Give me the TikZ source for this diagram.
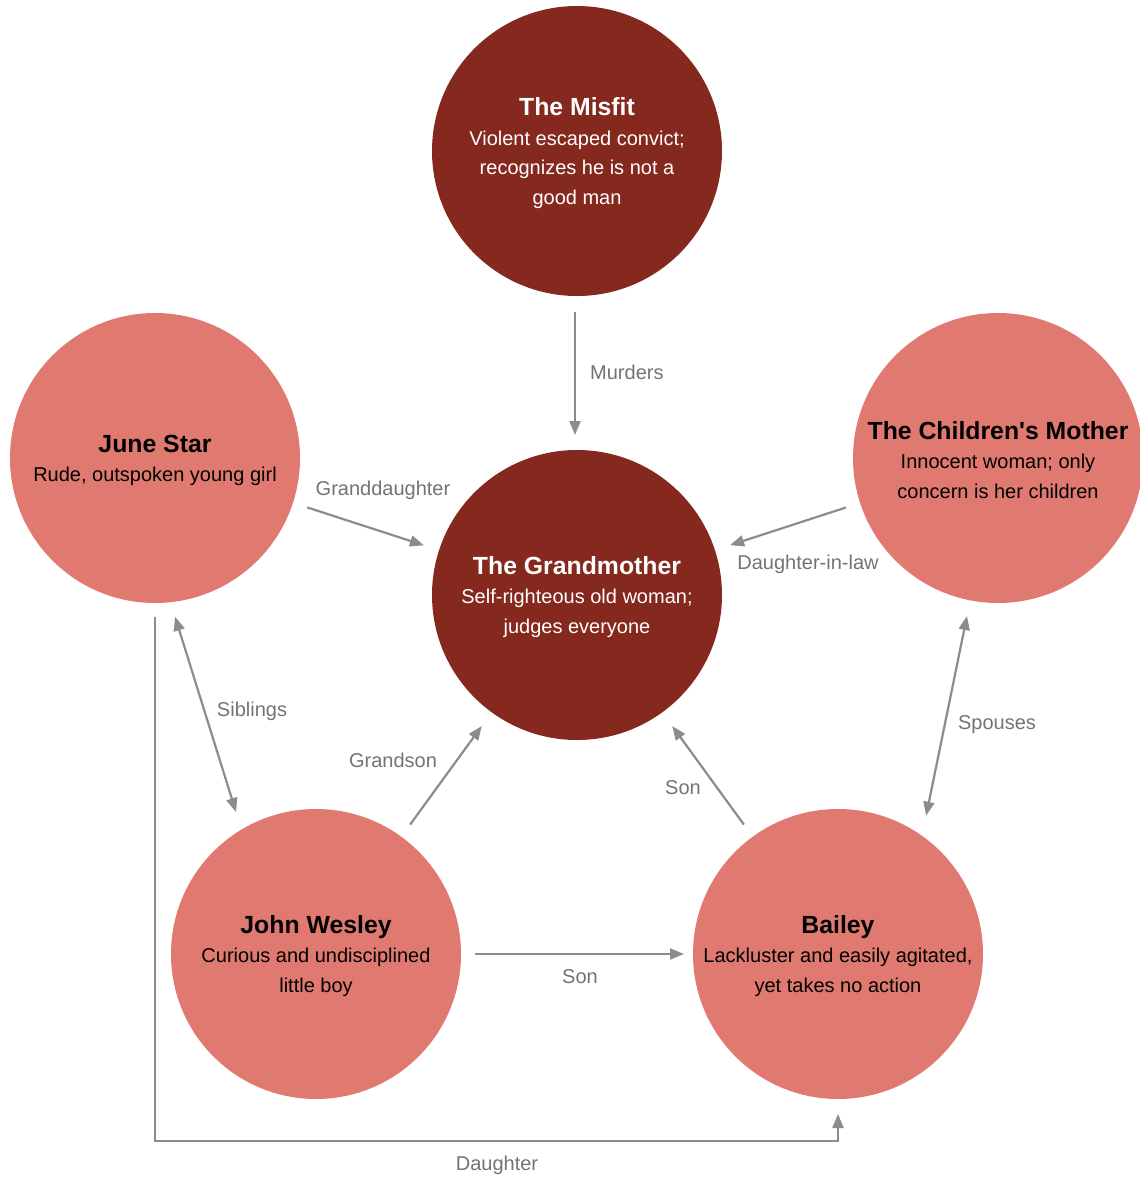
\documentclass[tikz,border=0pt]{standalone}
\usepackage{fontspec}
\setmainfont{Liberation Sans}
\usetikzlibrary{arrows.meta,calc}
\definecolor{darkc}{HTML}{85281E}
\definecolor{lightc}{HTML}{E07A70}
\definecolor{arrc}{HTML}{8C8C8C}
\definecolor{labc}{HTML}{737373}
\newcommand\chartitle[1]{{\fontsize{24.8}{29.5}\selectfont\bfseries\rule{0pt}{22pt}#1}}
\begin{document}
\begin{tikzpicture}[x=1pt,y=1pt,
 person/.style={circle, minimum size=290pt, inner sep=0pt, outer sep=0pt, align=center, font=\fontsize{20}{29.5}\selectfont},
 darkp/.style={person, fill=darkc, text=white},
 lightp/.style={person, fill=lightc, text=black},
 conn/.style={draw=arrc, line width=2.2pt, -{Triangle[length=14pt,width=11pt]}},
 both/.style={conn, {Triangle[length=14pt,width=11pt]}-{Triangle[length=14pt,width=11pt]}},
 lab/.style={text=labc, font=\fontsize{20}{23}\selectfont, inner sep=0pt}]
\useasboundingbox (0,0) rectangle (1140,-1179);

\node[darkp] (misfit) at (577,-151) {\chartitle{The Misfit}\\Violent escaped convict;\\recognizes he is not a\\good man};
\node[darkp] (grandma) at (577,-595) {\chartitle{The Grandmother}\\Self-righteous old woman;\\judges everyone};
\node[lightp] (june) at (155,-458) {\chartitle{June Star}\\Rude, outspoken young girl};
\node[lightp] (mother) at (998,-458) {\chartitle{The Children\textquotesingle s Mother}\\Innocent woman; only\\concern is her children};
\node[lightp] (john) at (316,-954) {\chartitle{John Wesley}\\Curious and undisciplined\\little boy};
\node[lightp] (bailey) at (838,-954) {\chartitle{Bailey}\\Lackluster and easily agitated,\\yet takes no action};

\draw[conn, shorten <=16pt, shorten >=15pt] ([xshift=-2pt]misfit.south) -- ([xshift=-2pt]grandma.north);
\draw[conn, shorten <=15pt, shorten >=16pt] (june) -- (grandma);
\draw[conn, shorten <=15pt, shorten >=16pt] (mother) -- (grandma);
\draw[both] ([shift={(-82.8:160pt)}]june.center) -- ([shift={(119.4:163pt)}]john.center);
\draw[both] ([shift={(-101.1:161pt)}]mother.center) -- ([shift={(57.5:164pt)}]bailey.center);
\draw[conn, shorten <=15pt, shorten >=17pt] (john) -- (grandma);
\draw[conn, shorten <=15pt, shorten >=17pt] (bailey) -- (grandma);
\draw[conn, shorten <=14pt, shorten >=9pt] (john) -- (bailey);
\draw[conn] ([yshift=-14pt]june.south) |- ([yshift=-42pt]bailey.south) -- ([yshift=-15pt]bailey.south);

\node[lab, anchor=west] (lmurders) at (590,-372) {Murders};
\node[lab] (lgd) at (383,-490) {Granddaughter};
\node[lab] (ldil) at (808,-564) {Daughter-in-law};
\node[lab] (lsib) at (252,-711) {Siblings};
\node[lab] (lspo) at (997,-725) {Spouses};
\node[lab] (lgs) at (393,-760) {Grandson};
\node[lab] (lson1) at (683,-788) {Son};
\node[lab] (lson2) at (580,-977) {Son};
\node[lab] (ldau) at (497,-1165) {Daughter};
\end{tikzpicture}
\end{document}
